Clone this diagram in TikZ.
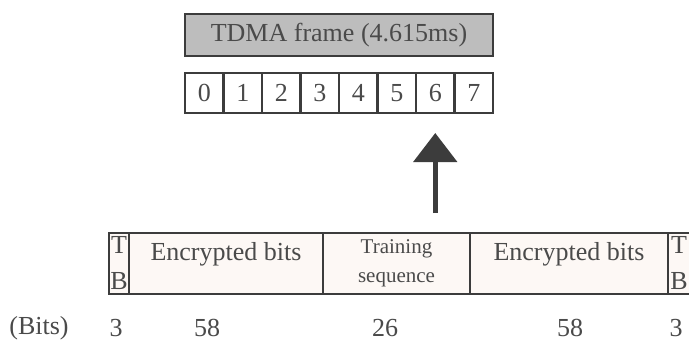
\documentclass[tikz,border=0pt]{standalone}
\usepackage{fontspec}
\setmainfont{Liberation Serif}
\usepackage{tikz}
\usetikzlibrary{positioning, calc}
\usetikzlibrary{arrows.meta}
\definecolor{inkgray}{HTML}{3C3C3C}
\definecolor{textgray}{HTML}{4A4A4A}
\definecolor{framegray}{HTML}{BDBDBD}
\definecolor{burstfill}{HTML}{FDF8F5}
\tikzstyle{framebox}=[rectangle,draw=inkgray,line width=1.1pt,
fill=framegray,minimum width=154pt,minimum height=21pt,inner sep=0pt,
outer sep=0pt,text=textgray,font=\fontsize{13}{15}\selectfont]
\tikzstyle{slotbox}=[rectangle,draw=inkgray,line width=1.1pt,
fill=white,minimum width=19.25pt,minimum height=20pt,inner sep=0pt,
outer sep=0pt,text=textgray,font=\fontsize{13}{15}\selectfont]
\tikzstyle{fieldbox}=[rectangle,draw=inkgray,line width=1.1pt,
fill=burstfill,minimum height=30.5pt,inner sep=0pt,outer sep=0pt]
\tikzstyle{fieldtext}=[inner sep=0pt,text=textgray,
font=\fontsize{13}{15}\selectfont]
\tikzstyle{tbtext}=[fieldtext,align=center,font=\fontsize{13}{18}\selectfont]
\tikzstyle{bitcount}=[fieldtext]
\tikzstyle{uparrow} = [-{Triangle[width=21.5pt,length=14.5pt]},
line width=2.6pt,color=inkgray,shorten >=10pt]

\begin{document}
\begin{tikzpicture}
    \path[use as bounding box, fill=white] (0,0) rectangle (344.5pt,-171pt);

    % the frame and its eight slots
    \node[framebox] (frame) at (169.5pt,-17.5pt) {TDMA frame (4.615ms)};
    \node[slotbox] (slot0) at (102.125pt,-46.5pt) {0};
    \node[slotbox, right=0pt of slot0] (slot1) {1};
    \node[slotbox, right=0pt of slot1] (slot2) {2};
    \node[slotbox, right=0pt of slot2] (slot3) {3};
    \node[slotbox, right=0pt of slot3] (slot4) {4};
    \node[slotbox, right=0pt of slot4] (slot5) {5};
    \node[slotbox, right=0pt of slot5] (slot6) {6};
    \node[slotbox, right=0pt of slot6] (slot7) {7};

    % the burst
    \node[fieldbox, minimum width=10pt] (tb1) at (59.5pt,-131.75pt) {};
    \node[fieldbox, minimum width=97pt, right=0pt of tb1] (enc1) {};
    \node[fieldbox, minimum width=73.5pt, right=0pt of enc1] (train) {};
    \node[fieldbox, minimum width=99pt, right=0pt of train] (enc2) {};
    \node[fieldbox, minimum width=13pt, right=0pt of enc2] (tb2) {};

    \node[tbtext] (tb1label) at (tb1) {T\\B};
    \node[fieldtext, below=4.5pt of enc1.north] (enc1label) {Encrypted bits};
    \node[fieldtext, align=center, font=\fontsize{10.5}{14.5}\selectfont]
        (trainlabel) at (train) {Training\\sequence};
    \node[fieldtext, below=4.5pt of enc2.north] (enc2label) {Encrypted bits};
    \node[tbtext, anchor=west] (tb2label) at ([xshift=1pt]tb2.west) {T\\B};

    \coordinate (foot) at ($(slot6.south)+(0,-50pt)$);
    \draw[uparrow] (foot) -- (slot6.south);

    % bit counts
    \node[bitcount] (bitsunit) at (19.5pt,-164pt) {(Bits)};
    \node[bitcount] (bits1) at (58pt,-164pt) {3};
    \node[bitcount] (bits2) at (103.5pt,-164pt) {58};
    \node[bitcount] (bits3) at (192.5pt,-164pt) {26};
    \node[bitcount] (bits4) at (285pt,-164pt) {58};
    \node[bitcount] (bits5) at (338pt,-164pt) {3};
\end{tikzpicture}
\end{document}
